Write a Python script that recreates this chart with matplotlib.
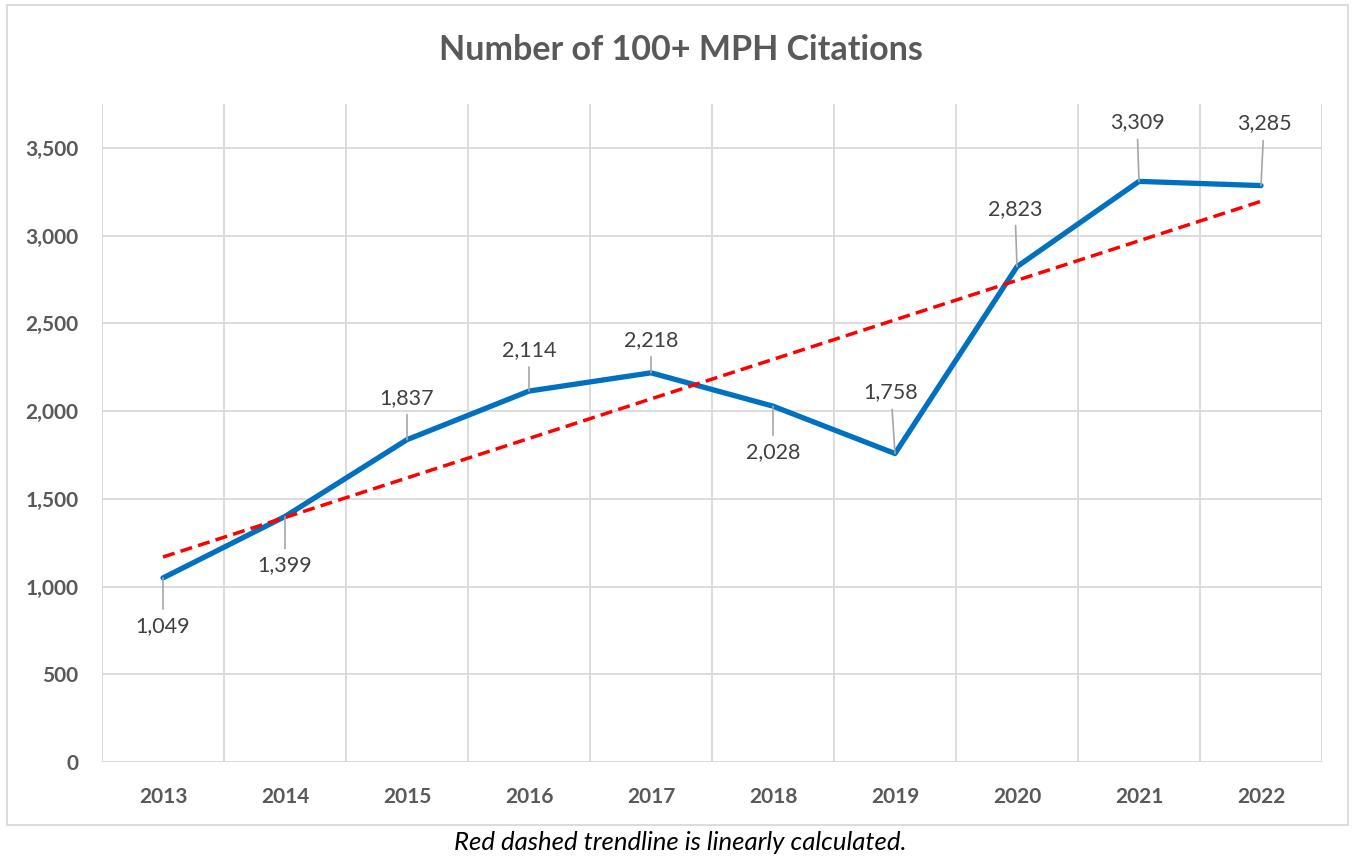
import matplotlib.pyplot as plt
import numpy as np
from matplotlib.patches import Rectangle

# ===== Data =====
years = ["2013", "2014", "2015", "2016", "2017", "2018", "2019", "2020", "2021", "2022"]
citations = [1049, 1399, 1837, 2114, 2218, 2028, 1758, 2823, 3309, 3285]

# label offsets from each point, in pixels (x, y)
label_offsets = [(0, -48), (0, -49), (0, 42), (0, 41), (0, 33),
                 (0, -46), (-4, 61), (-2, 58), (-2, 59), (3, 62)]

TITLE = "Number of 100+ MPH Citations"
CAPTION = "Red dashed trendline is linearly calculated."

# ===== Style =====
FONT = ['Lato', 'DejaVu Sans']
GRID = '#d9d9d9'
TEXT = '#595959'
plt.rcParams['font.family'] = FONT

fig = plt.figure(figsize=(13.53, 8.57), dpi=100)
ax = fig.add_axes([102 / 1353, 1 - 762 / 857, 1220 / 1353, 658 / 857])

x = np.arange(len(years))

# linear trendline
slope, intercept = np.polyfit(x, citations, 1)
trend = slope * x + intercept

ax.plot(x, citations, color='#0070C0', lw=3.8, solid_capstyle='round',
        solid_joinstyle='round', zorder=3)
ax.plot(x, trend, color='#ff0000', lw=2.5, linestyle=(0, (3.5, 1.8)), zorder=4)

for xi, val, (dx, dy) in zip(x, citations, label_offsets):
    ax.annotate(f"{val:,}", xy=(xi, val), xytext=(dx, dy), textcoords='offset pixels',
                ha='center', va='center', fontsize=15.5, color='#404040',
                arrowprops=dict(arrowstyle='-', color='#a6a6a6', lw=1.2,
                                shrinkA=3, shrinkB=0), zorder=5)

ax.set_xlim(-0.5, len(years) - 0.5)
ax.set_ylim(0, 3750)
ax.set_xticks(x)
ax.set_xticklabels(years)
ax.set_yticks(np.arange(0, 3501, 500))
ax.set_yticklabels([f"{v:,}" for v in range(0, 3501, 500)])
ax.set_xticks(np.arange(-0.5, len(years), 1), minor=True)
ax.tick_params(axis='both', which='both', length=0)
ax.tick_params(axis='x', which='major', pad=18, labelsize=15, labelcolor=TEXT)
ax.tick_params(axis='y', which='major', pad=17, labelsize=15, labelcolor=TEXT)
for lab in ax.get_xticklabels() + ax.get_yticklabels():
    lab.set_fontweight('bold')

ax.grid(True, which='minor', axis='x', color=GRID, lw=1.3)
ax.grid(True, which='major', axis='y', color=GRID, lw=1.3)
ax.set_axisbelow(True)
for spine in ax.spines.values():
    spine.set_visible(False)

# chart border
fig.patches.append(Rectangle((7 / 1353, 1 - 825 / 857), 1341 / 1353, 820 / 857,
                             transform=fig.transFigure, fill=False,
                             edgecolor=GRID, lw=1.3))

fig.text(681 / 1353, 1 - 50 / 857, TITLE, ha='center', va='center',
         fontsize=24.5, fontweight='bold', color=TEXT)
fig.text(680 / 1353, 1 - 842 / 857, CAPTION, ha='center', va='center',
         fontsize=18.5, style='italic', color='black')

fig.savefig('out.png', dpi=100)
